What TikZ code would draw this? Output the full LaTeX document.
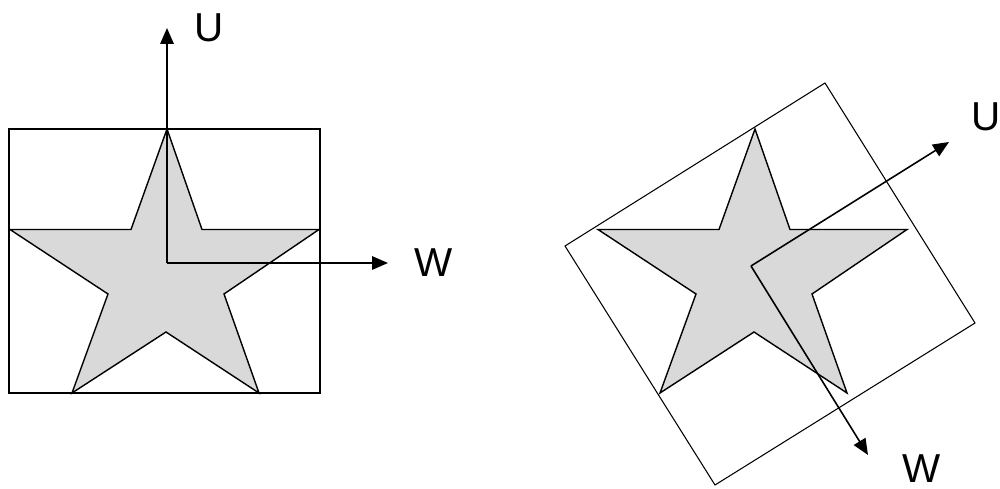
\documentclass[tikz,border=0pt]{standalone}
\usepackage{fontspec}
\setmainfont{Liberation Sans}
\usetikzlibrary{arrows.meta}
\tikzset{
  starshape/.style={draw=black, fill=black!15, line width=0.8pt},
  frame/.style={draw=black, line width=0.8pt},
  thinframe/.style={draw=black, line width=0.6pt},
  axis/.style={line width=0.9pt, -{Triangle[length=0.32cm,width=0.27cm]}},
  axislabel/.style={font=\fontsize{23}{26}\selectfont, inner sep=0pt},
}
\begin{document}
\begin{tikzpicture}[x=0.02cm,y=-0.02cm]
    \useasboundingbox (0,0) rectangle (1000,489);
    \draw[frame] (9,129) rectangle (320,393);
    \draw[thinframe] (825,83) -- (975,323) -- (715,485) -- (565,246) -- cycle;
    \foreach \s in {0,588}
    {
    \draw[starshape, shift={(\s,0)}] (167,129)
      \foreach \x/\y in {202/229.5,319/229.5,224/294,259/393,166/332,72/393,108/294,10/229.5,131/229.5}
      { -- (\x,\y) } -- cycle;
    }
    % left axes
    \coordinate (o1) at (167,263);
    \coordinate (u1) at (167,28);
    \coordinate (w1) at (388,263);
    \draw[axis] (o1) -- (u1);
    \draw[axis] (o1) -- (w1);
    \node[axislabel] (lu1) at (209,28) {U};
    \node[axislabel] (lw1) at (434,263) {W};
    % right axes, turned
    \coordinate (o2) at (751,266);
    \coordinate (u2) at (949,142);
    \coordinate (w2) at (868,455);
    \draw[axis] (o2) -- (u2);
    \draw[axis] (o2) -- (w2);
    \node[axislabel] (lu2) at (986,117) {U};
    \node[axislabel] (lw2) at (922,469) {W};
\end{tikzpicture}
\end{document}
